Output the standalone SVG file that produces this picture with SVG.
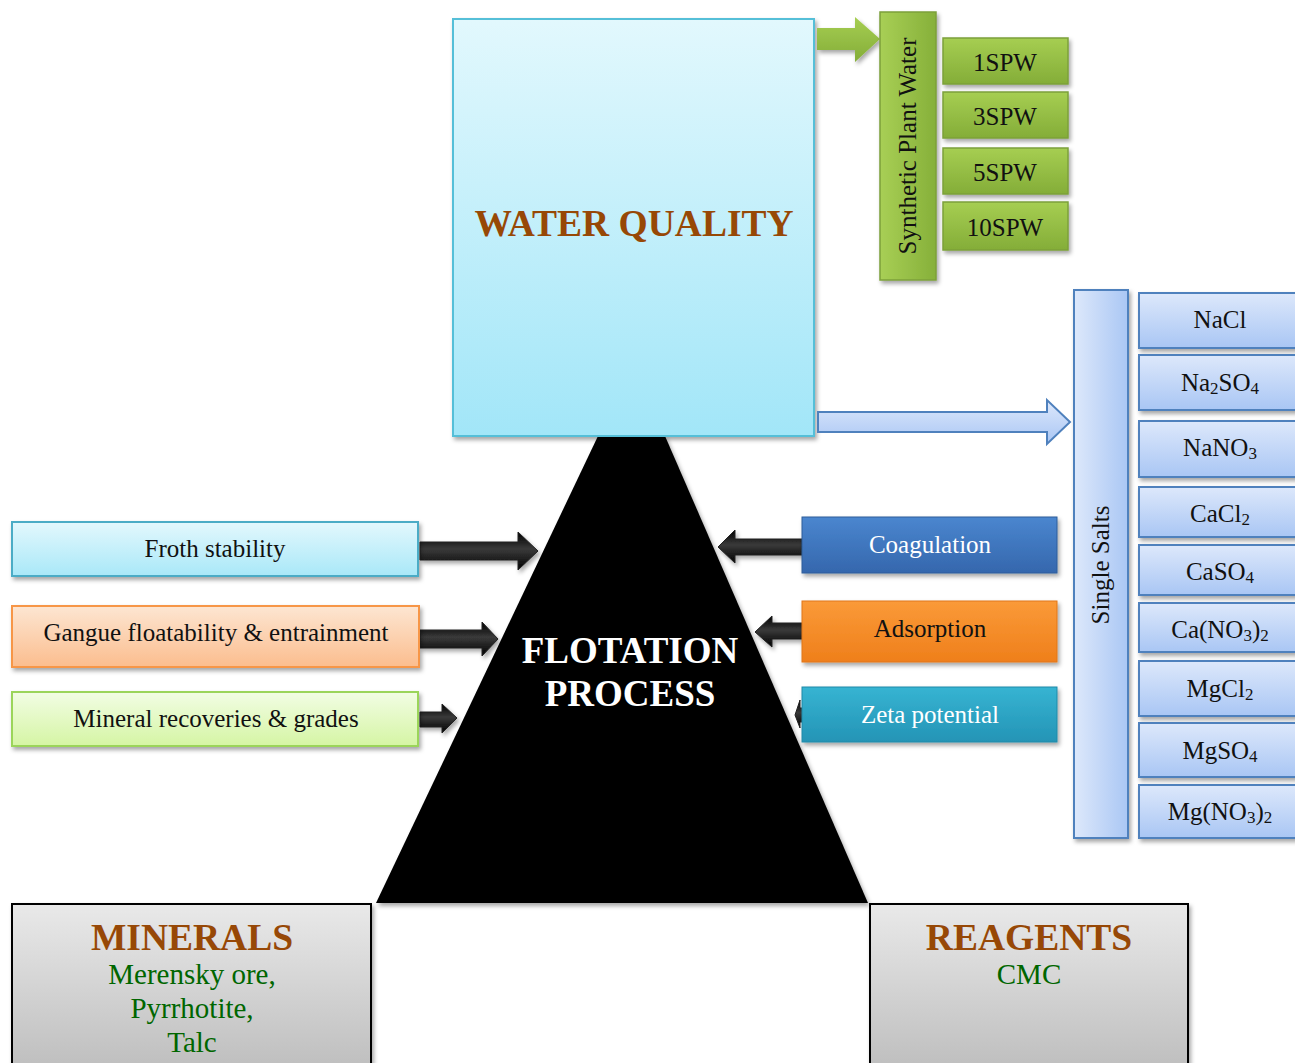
<svg xmlns="http://www.w3.org/2000/svg" width="1295" height="1063" viewBox="0 0 1295 1063">
<defs>
<linearGradient id="gWater" x1="0" y1="0" x2="0" y2="1"><stop offset="0" stop-color="#e2f8fd"/><stop offset="1" stop-color="#a2e6f8"/></linearGradient>
<linearGradient id="gGreen" x1="0" y1="0" x2="0" y2="1"><stop offset="0" stop-color="#a6ce52"/><stop offset="1" stop-color="#84ad38"/></linearGradient>
<linearGradient id="gGreenH" x1="0" y1="0" x2="1" y2="0"><stop offset="0" stop-color="#a8cf55"/><stop offset="1" stop-color="#86b03a"/></linearGradient>
<linearGradient id="gBlueL" x1="0" y1="0" x2="0" y2="1"><stop offset="0" stop-color="#dde8fb"/><stop offset="1" stop-color="#a9c6f4"/></linearGradient>
<linearGradient id="gBlueV" x1="0" y1="0" x2="1" y2="0"><stop offset="0" stop-color="#dde8fb"/><stop offset="1" stop-color="#aac7f4"/></linearGradient>
<linearGradient id="gFroth" x1="0" y1="0" x2="0" y2="1"><stop offset="0" stop-color="#e3f8fd"/><stop offset="1" stop-color="#a9e8f8"/></linearGradient>
<linearGradient id="gGangue" x1="0" y1="0" x2="0" y2="1"><stop offset="0" stop-color="#fde6d2"/><stop offset="1" stop-color="#fbbd8e"/></linearGradient>
<linearGradient id="gMin" x1="0" y1="0" x2="0" y2="1"><stop offset="0" stop-color="#f2fde4"/><stop offset="1" stop-color="#d5f5a4"/></linearGradient>
<linearGradient id="gCoag" x1="0" y1="0" x2="0" y2="1"><stop offset="0" stop-color="#4a86cf"/><stop offset="1" stop-color="#3567ad"/></linearGradient>
<linearGradient id="gAds" x1="0" y1="0" x2="0" y2="1"><stop offset="0" stop-color="#fa9a38"/><stop offset="1" stop-color="#ef7f1b"/></linearGradient>
<linearGradient id="gZeta" x1="0" y1="0" x2="0" y2="1"><stop offset="0" stop-color="#36b4d2"/><stop offset="1" stop-color="#2494b6"/></linearGradient>
<linearGradient id="gGray" x1="0" y1="0" x2="0" y2="1"><stop offset="0" stop-color="#e9e9e9"/><stop offset="1" stop-color="#bdbdbd"/></linearGradient>
<linearGradient id="gArrow" x1="0" y1="0" x2="0" y2="1"><stop offset="0" stop-color="#000"/><stop offset="0.45" stop-color="#3a3a3a"/><stop offset="1" stop-color="#000"/></linearGradient>
<filter id="sh" x="-10%" y="-10%" width="130%" height="130%"><feDropShadow dx="2" dy="3" stdDeviation="2" flood-color="#000" flood-opacity="0.35"/></filter>
</defs>
<style>
.t{font-family:"Liberation Serif","Times New Roman",serif;text-anchor:middle}
.s22{font-size:25px;fill:#111}
.w{fill:#fff}
.title{font-size:37.5px;font-weight:bold;fill:#974806}
.grn{font-size:29px;fill:#006600}
.blueStroke{stroke:#4f81bd;stroke-width:2}
.greenStroke{stroke:#7ca03a;stroke-width:1.5}
.arr{fill:url(#gArrow);stroke:#222;stroke-width:1}
</style>

<g id="triangle"><polygon points="598,436 665,436 868,903 376,903" fill="#000" filter="url(#sh)"/>
<text class="t w" x="630" y="663" font-size="37" font-weight="bold">FLOTATION</text>
<text class="t w" x="630" y="706" font-size="37" font-weight="bold">PROCESS</text></g>

<g id="water-quality"><rect x="453" y="19" width="361" height="417" fill="url(#gWater)" stroke="#55bfd8" stroke-width="2" filter="url(#sh)"/>
<text class="t title" x="634" y="236">WATER QUALITY</text></g>

<g id="connectors">
<path d="M817,28 H855 V17 L880,39 L855,62 V50 H817 Z" fill="url(#gGreen)" filter="url(#sh)"/>
<path d="M818,412 H1047 V400 L1070,422 L1047,444 V432 H818 Z" fill="url(#gBlueL)" stroke="#4f81bd" stroke-width="2"/>
<path class="arr" d="M420,542 H518 V532 L538,551 L518,570 V560 H420 Z" filter="url(#sh)"/>
<path class="arr" d="M420,630 H482 V622 L498,639 L482,656 V648 H420 Z" filter="url(#sh)"/>
<path class="arr" d="M420,712 H442 V704 L457,718 L442,733 V727 H420 Z" filter="url(#sh)"/>
<path class="arr" d="M802,539 H735 V530 L718,547 L735,563 V555 H802 Z" filter="url(#sh)"/>
<path class="arr" d="M803,623 H772 V616 L755,632 L772,647 V639 H803 Z" filter="url(#sh)"/>
<path class="arr" d="M803,708 H800 V700 L795,715 L800,728 V722 H803 Z"/>
</g>

<g id="synthetic-plant-water"><rect x="880" y="12" width="56" height="268" fill="url(#gGreenH)" class="greenStroke" filter="url(#sh)"/>
<text class="t s22" transform="translate(916,146) rotate(-90)">Synthetic Plant Water</text></g>
<g id="spw1"><rect x="943" y="38" width="125" height="46" fill="url(#gGreen)" class="greenStroke" filter="url(#sh)"/><text class="t s22" x="1005" y="71">1SPW</text></g>
<g id="spw3"><rect x="943" y="92" width="125" height="46" fill="url(#gGreen)" class="greenStroke" filter="url(#sh)"/><text class="t s22" x="1005" y="125">3SPW</text></g>
<g id="spw5"><rect x="943" y="148" width="125" height="46" fill="url(#gGreen)" class="greenStroke" filter="url(#sh)"/><text class="t s22" x="1005" y="181">5SPW</text></g>
<g id="spw10"><rect x="943" y="202" width="125" height="48" fill="url(#gGreen)" class="greenStroke" filter="url(#sh)"/><text class="t s22" x="1005" y="236">10SPW</text></g>

<g id="single-salts"><rect x="1074" y="290" width="54" height="548" fill="url(#gBlueV)" class="blueStroke" filter="url(#sh)"/>
<text class="t s22" transform="translate(1109,565) rotate(-90)">Single Salts</text></g>
<g id="nacl"><rect x="1139" y="293" width="160" height="55" fill="url(#gBlueL)" class="blueStroke" filter="url(#sh)"/><text class="t s22" x="1220" y="328">NaCl</text></g>
<g id="na2so4"><rect x="1139" y="355" width="160" height="55" fill="url(#gBlueL)" class="blueStroke" filter="url(#sh)"/><text class="t s22" x="1220" y="391">Na<tspan font-size="17" dy="3">2</tspan><tspan dy="-3">SO</tspan><tspan font-size="17" dy="3">4</tspan></text></g>
<g id="nano3"><rect x="1139" y="421" width="160" height="56" fill="url(#gBlueL)" class="blueStroke" filter="url(#sh)"/><text class="t s22" x="1220" y="456">NaNO<tspan font-size="17" dy="3">3</tspan></text></g>
<g id="cacl2"><rect x="1139" y="487" width="160" height="50" fill="url(#gBlueL)" class="blueStroke" filter="url(#sh)"/><text class="t s22" x="1220" y="522">CaCl<tspan font-size="17" dy="3">2</tspan></text></g>
<g id="caso4"><rect x="1139" y="545" width="160" height="50" fill="url(#gBlueL)" class="blueStroke" filter="url(#sh)"/><text class="t s22" x="1220" y="580">CaSO<tspan font-size="17" dy="3">4</tspan></text></g>
<g id="cano32"><rect x="1139" y="603" width="160" height="49" fill="url(#gBlueL)" class="blueStroke" filter="url(#sh)"/><text class="t s22" x="1220" y="638">Ca(NO<tspan font-size="17" dy="3">3</tspan><tspan dy="-3">)</tspan><tspan font-size="17" dy="3">2</tspan></text></g>
<g id="mgcl2"><rect x="1139" y="661" width="160" height="55" fill="url(#gBlueL)" class="blueStroke" filter="url(#sh)"/><text class="t s22" x="1220" y="697">MgCl<tspan font-size="17" dy="3">2</tspan></text></g>
<g id="mgso4"><rect x="1139" y="723" width="160" height="54" fill="url(#gBlueL)" class="blueStroke" filter="url(#sh)"/><text class="t s22" x="1220" y="759">MgSO<tspan font-size="17" dy="3">4</tspan></text></g>
<g id="mgno32"><rect x="1139" y="785" width="160" height="53" fill="url(#gBlueL)" class="blueStroke" filter="url(#sh)"/><text class="t s22" x="1220" y="820">Mg(NO<tspan font-size="17" dy="3">3</tspan><tspan dy="-3">)</tspan><tspan font-size="17" dy="3">2</tspan></text></g>

<g id="froth"><rect x="12" y="522" width="406" height="54" fill="url(#gFroth)" stroke="#4bacc6" stroke-width="2" filter="url(#sh)"/><text class="t s22" x="215" y="557">Froth stability</text></g>
<g id="gangue"><rect x="12" y="606" width="407" height="61" fill="url(#gGangue)" stroke="#f79646" stroke-width="2" filter="url(#sh)"/><text class="t s22" x="216" y="641">Gangue floatability &amp; entrainment</text></g>
<g id="recoveries"><rect x="12" y="692" width="406" height="54" fill="url(#gMin)" stroke="#9bd55a" stroke-width="2" filter="url(#sh)"/><text class="t s22" x="216" y="727">Mineral recoveries &amp; grades</text></g>

<g id="coagulation"><rect x="802" y="517" width="255" height="56" fill="url(#gCoag)" stroke="#2f5c9a" stroke-width="1" filter="url(#sh)"/><text class="t w" font-size="25" x="930" y="553">Coagulation</text></g>
<g id="adsorption"><rect x="802" y="601" width="255" height="61" fill="url(#gAds)" stroke="#e0761a" stroke-width="1" filter="url(#sh)"/><text class="t" font-size="25" fill="#111" x="930" y="637">Adsorption</text></g>
<g id="zeta"><rect x="802" y="687" width="255" height="55" fill="url(#gZeta)" stroke="#1f8aa8" stroke-width="1" filter="url(#sh)"/><text class="t w" font-size="25" x="930" y="723">Zeta potential</text></g>

<g id="minerals"><rect x="12" y="904" width="359" height="170" fill="url(#gGray)" stroke="#000" stroke-width="2" filter="url(#sh)"/>
<text class="t title" x="192" y="950">MINERALS</text>
<text class="t grn" x="192" y="984">Merensky ore,</text>
<text class="t grn" x="192" y="1018">Pyrrhotite,</text>
<text class="t grn" x="192" y="1052">Talc</text></g>
<g id="reagents"><rect x="870" y="904" width="318" height="170" fill="url(#gGray)" stroke="#000" stroke-width="2" filter="url(#sh)"/>
<text class="t title" x="1029" y="950">REAGENTS</text>
<text class="t grn" x="1029" y="984">CMC</text></g>
</svg>
